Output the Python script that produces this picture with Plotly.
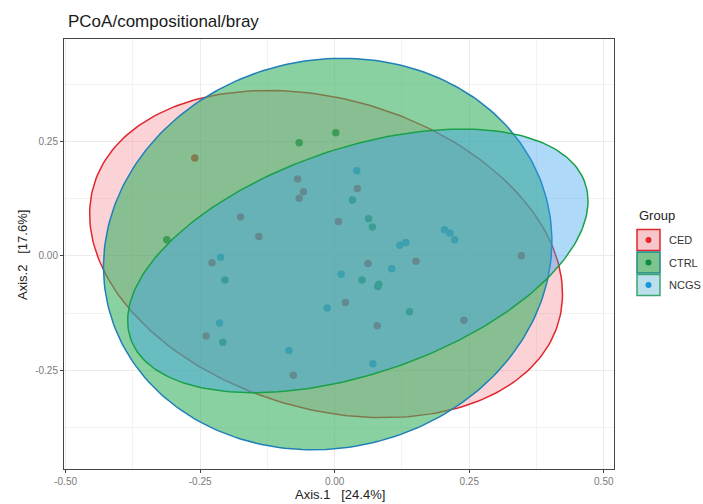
import numpy as np
import plotly.graph_objects as go

# ---------------- data ----------------
groups = ["CED", "CTRL", "NCGS"]

ced_x = [-0.260, -0.069, -0.058, -0.066, -0.175, -0.141, 0.007, 0.042, -0.228,
         0.062, 0.151, 0.347, 0.240, 0.020, 0.079, -0.239, -0.077]
ced_y = [0.214, 0.168, 0.140, 0.126, 0.085, 0.042, 0.075, 0.147, -0.015,
         -0.017, -0.012, 0.000, -0.141, -0.102, -0.153, -0.175, -0.261]

ctrl_x = [-0.066, 0.002, -0.312, 0.033, 0.063, 0.070, -0.204, 0.051, 0.082,
          0.080, -0.208, 0.139]
ctrl_y = [0.247, 0.269, 0.035, 0.122, 0.081, 0.063, -0.053, -0.053, -0.062,
          -0.067, -0.189, -0.122]

ncgs_x = [0.041, -0.212, 0.012, 0.106, 0.121, 0.132, -0.214, -0.014, -0.085,
          0.071, 0.204, 0.214, 0.223]
ncgs_y = [0.186, -0.003, -0.040, -0.028, 0.023, 0.029, -0.147, -0.114, -0.207,
          -0.236, 0.057, 0.050, 0.035]

# 95% ellipse parameters per group: centre, semi-axes, rotation (deg)
ell_cx = [-0.016, -0.013, 0.043]
ell_cy = [0.004, 0.004, -0.011]
ell_a = [0.459, 0.437, 0.456]
ell_b = [0.332, 0.407, 0.241]
ell_angle = [-24.8, 56.0, 24.1]

x_ticks = [-0.50, -0.25, 0.00, 0.25, 0.50]
y_ticks = [-0.25, 0.00, 0.25]
x_label = "Axis.1   [24.4%]"
y_label = "Axis.2   [17.6%]"
title = "PCoA/compositional/bray"

# ---------------- styles ----------------
point_col = {"CED": "#E8262B", "CTRL": "#0E8A44", "NCGS": "#1597D8"}
fill_col = {"CED": "rgba(240,70,85,0.24)", "CTRL": "rgba(60,178,100,0.60)",
            "NCGS": "rgba(55,160,238,0.40)"}
line_col = {"CED": "#E0262E", "CTRL": "#1F80B8", "NCGS": "#1AA048"}
key_fill = {"CED": "#F7C6CA", "CTRL": "#7CC58F", "NCGS": "#BCDFEE"}
key_line = {"CED": "#E0262E", "CTRL": "#1E8A8A", "NCGS": "#3AA86A"}

pts = {"CED": (ced_x, ced_y), "CTRL": (ctrl_x, ctrl_y), "NCGS": (ncgs_x, ncgs_y)}

W, H = 703, 504
ML, MT = 64, 39
MR, MB = 703 - 614, 504 - 469
PW, PH = W - ML - MR, H - MT - MB


def px(x):
    return (x - ML) / PW


def py(y):
    return (H - MB - y) / PH


fig = go.Figure()

# points first (ellipses drawn on top, as in the reference)
for g in groups:
    xs, ys = pts[g]
    fig.add_trace(go.Scatter(x=xs, y=ys, mode="markers", name=g, showlegend=False,
                             marker=dict(size=7.5, color=point_col[g], line=dict(width=0))))

t = np.linspace(0, 2 * np.pi, 240)
for i, g in enumerate(groups):
    th = np.deg2rad(ell_angle[i])
    ex = ell_cx[i] + ell_a[i] * np.cos(t) * np.cos(th) - ell_b[i] * np.sin(t) * np.sin(th)
    ey = ell_cy[i] + ell_a[i] * np.cos(t) * np.sin(th) + ell_b[i] * np.sin(t) * np.cos(th)
    fig.add_trace(go.Scatter(x=ex, y=ey, mode="lines", fill="toself", showlegend=False,
                             fillcolor=fill_col[g], line=dict(color=line_col[g], width=1.5),
                             hoverinfo="skip"))

font = "Liberation Sans, Arial, sans-serif"
axis_common = dict(showgrid=True, gridcolor="#EBEBEB", gridwidth=1, zeroline=False,
                   showline=True, linecolor="#444444", linewidth=1, mirror=True,
                   ticks="outside", ticklen=3, tickcolor="#444444",
                   tickfont=dict(size=10, color="#7a7a7a", family=font))

fig.update_xaxes(range=[-0.503, 0.519], tickvals=x_ticks,
                 ticktext=[f"{v:.2f}" for v in x_ticks],
                 minor=dict(dtick=0.125, tick0=0.125, showgrid=True, gridcolor="#F3F3F3",
                            gridwidth=0.8),
                 **axis_common)
fig.update_yaxes(range=[-0.466, 0.474], tickvals=y_ticks,
                 ticktext=[f"{v:.2f}" for v in y_ticks],
                 minor=dict(dtick=0.125, tick0=0.125, showgrid=True, gridcolor="#F3F3F3",
                            gridwidth=0.8),
                 **axis_common)

shapes = []
annotations = [
    dict(text=title, x=px(66), y=py(21), xref="paper", yref="paper", xanchor="left",
         yanchor="middle", showarrow=False, font=dict(size=17, color="#1a1a1a", family=font)),
    dict(text=x_label, x=px(340), y=py(495), xref="paper", yref="paper", xanchor="center",
         yanchor="middle", showarrow=False, font=dict(size=13, color="#222", family=font)),
    dict(text=y_label, x=px(22), y=py(255), xref="paper", yref="paper", xanchor="center",
         yanchor="middle", textangle=-90, showarrow=False,
         font=dict(size=13, color="#222", family=font)),
    dict(text="Group", x=px(637), y=py(215), xref="paper", yref="paper", xanchor="left",
         yanchor="middle", showarrow=False, font=dict(size=13, color="#222", family=font)),
]

key_top = [229.5, 252.0, 274.5]
for i, g in enumerate(groups):
    y0 = key_top[i]
    y1 = y0 + 21
    shapes.append(dict(type="rect", xref="paper", yref="paper", x0=px(637), x1=px(660),
                       y0=py(y1), y1=py(y0), fillcolor=key_fill[g],
                       line=dict(color=key_line[g], width=1.5)))
    cy = (y0 + y1) / 2
    shapes.append(dict(type="circle", xref="paper", yref="paper", x0=px(645.5), x1=px(651.5),
                       y0=py(cy + 3), y1=py(cy - 3), fillcolor=point_col[g],
                       line=dict(width=0)))
    annotations.append(dict(text=g, x=px(667), y=py(cy), xref="paper", yref="paper",
                            xanchor="left", yanchor="middle", showarrow=False,
                            font=dict(size=11, color="#333", family=font)))

fig.update_layout(width=W, height=H, margin=dict(l=ML, r=MR, t=MT, b=MB),
                  paper_bgcolor="white", plot_bgcolor="white", showlegend=False,
                  shapes=shapes, annotations=annotations, font=dict(family=font))

fig.write_html("out.html", config={"displayModeBar": False},
               post_script="document.body.style.margin='0px';"
                           "document.body.style.overflow='hidden';")
